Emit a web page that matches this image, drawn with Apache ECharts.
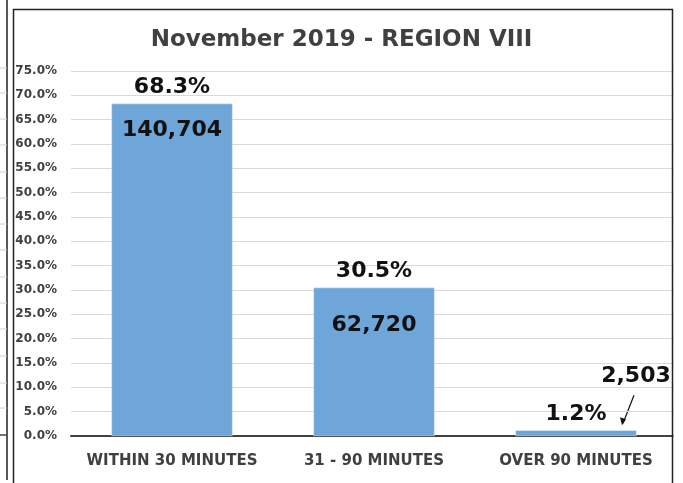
<!DOCTYPE html>
<html>
<head>
<meta charset="utf-8">
<script src="https://cdn.jsdelivr.net/npm/echarts@6/dist/echarts.min.js"></script>
<style>
    html, body { margin: 0; padding: 0; background: #fff; }
    #chart { width: 683px; height: 483px; }
</style>
</head>
<body>
<div id="chart"></div>
<script>
    // data
    var categories = ['WITHIN 30 MINUTES', '31 - 90 MINUTES', 'OVER 90 MINUTES'];
    var shares = [68.3, 30.5, 1.2];
    var counts = ['140,704', '62,720', '2,503'];

    var FONT = 'DejaVu Sans';
    var chart = echarts.init(document.getElementById('chart'));

    // rows of the table cut off at the left edge of the screenshot
    var leftRows = [68, 93, 119, 145, 172, 198, 224, 250, 277, 303, 329, 356, 383, 408];
    var decor = [
        {type: 'rect', shape: {x: 13.5, y: 9.5, width: 659, height: 480}, style: {fill: 'none', stroke: '#222', lineWidth: 1.5}, silent: true, z: 10},
        {type: 'line', shape: {x1: 7, y1: 0, x2: 7, y2: 480}, style: {stroke: '#222', lineWidth: 1.5}, silent: true},
        {type: 'line', shape: {x1: 0, y1: 435, x2: 7, y2: 435}, style: {stroke: '#444', lineWidth: 1.5}, silent: true},
        {type: 'rect', shape: {x: 673.5, y: 0, width: 10, height: 483}, style: {fill: '#fff'}, silent: true, z: 9}
    ];
    leftRows.forEach(function (y) {
        decor.push({type: 'line', shape: {x1: 0, y1: y, x2: 7, y2: y}, style: {stroke: '#d0d0d0', lineWidth: 1}, silent: true});
    });

    var option = {
        animation: false,
        backgroundColor: '#fff',
        title: {
            text: 'November 2019 - REGION VIII',
            left: 'center',
            top: 24,
            textStyle: {fontFamily: FONT, fontSize: 23, fontWeight: 'bold', color: '#404040'}
        },
        grid: {left: 71, right: 6, top: 71, bottom: 47},
        xAxis: {
            type: 'category',
            data: categories,
            axisTick: {show: false},
            axisLine: {lineStyle: {color: '#404040', width: 2}},
            axisLabel: {interval: 0, fontFamily: FONT, fontSize: 15, fontWeight: 'bold', color: '#404040', margin: 18}
        },
        yAxis: {
            type: 'value',
            min: 0,
            max: 75,
            interval: 5,
            axisLabel: {
                fontFamily: FONT, fontSize: 12, fontWeight: 'bold', color: '#404040', margin: 14,
                formatter: function (v) { return v.toFixed(1) + '%'; }
            },
            splitLine: {lineStyle: {color: '#d9d9d9'}}
        },
        series: [
            {
                type: 'bar',
                data: shares,
                barWidth: '60%',
                itemStyle: {color: '#6FA6DA', borderColor: '#e8f0f8', borderWidth: 0.5},
                label: {
                    show: true,
                    position: 'top',
                    distance: 5,
                    fontFamily: FONT, fontSize: 22, fontWeight: 'bold', color: '#111',
                    formatter: function (p) { return p.value.toFixed(1) + '%'; }
                },
                z: 2
            },
            {
                type: 'bar',
                data: shares.map(function (v, i) {
                    var item = {value: v};
                    if (i === 1) item.label = {distance: 27};
                    if (i === 2) item.label = {position: 'top', distance: 3, offset: [60, -40]};
                    return item;
                }),
                barWidth: '60%',
                barGap: '-100%',
                itemStyle: {color: 'rgba(0,0,0,0)'},
                label: {
                    show: true,
                    position: 'insideTop',
                    distance: 16,
                    fontFamily: FONT, fontSize: 22, fontWeight: 'bold', color: '#111',
                    formatter: function (p) { return counts[p.dataIndex]; }
                },
                z: 3
            }
        ],
        graphic: decor
    };
    chart.setOption(option);

    // arrow from the last count label down to its small bar
    var top3 = chart.convertToPixel({seriesIndex: 0}, [2, shares[2]]);
    chart.setOption({
        graphic: decor.concat([{
            type: 'line',
            shape: {x1: top3[0] + 58, y1: top3[1] - 35, x2: top3[0] + 47, y2: top3[1] - 7},
            style: {stroke: '#111', lineWidth: 1.2},
            silent: true
        }, {
            type: 'polygon',
            shape: {points: [
                [top3[0] + 46, top3[1] - 5],
                [top3[0] + 44, top3[1] - 13],
                [top3[0] + 50, top3[1] - 11]
            ]},
            style: {fill: '#111'},
            silent: true
        }])
    });
</script>
</body>
</html>
